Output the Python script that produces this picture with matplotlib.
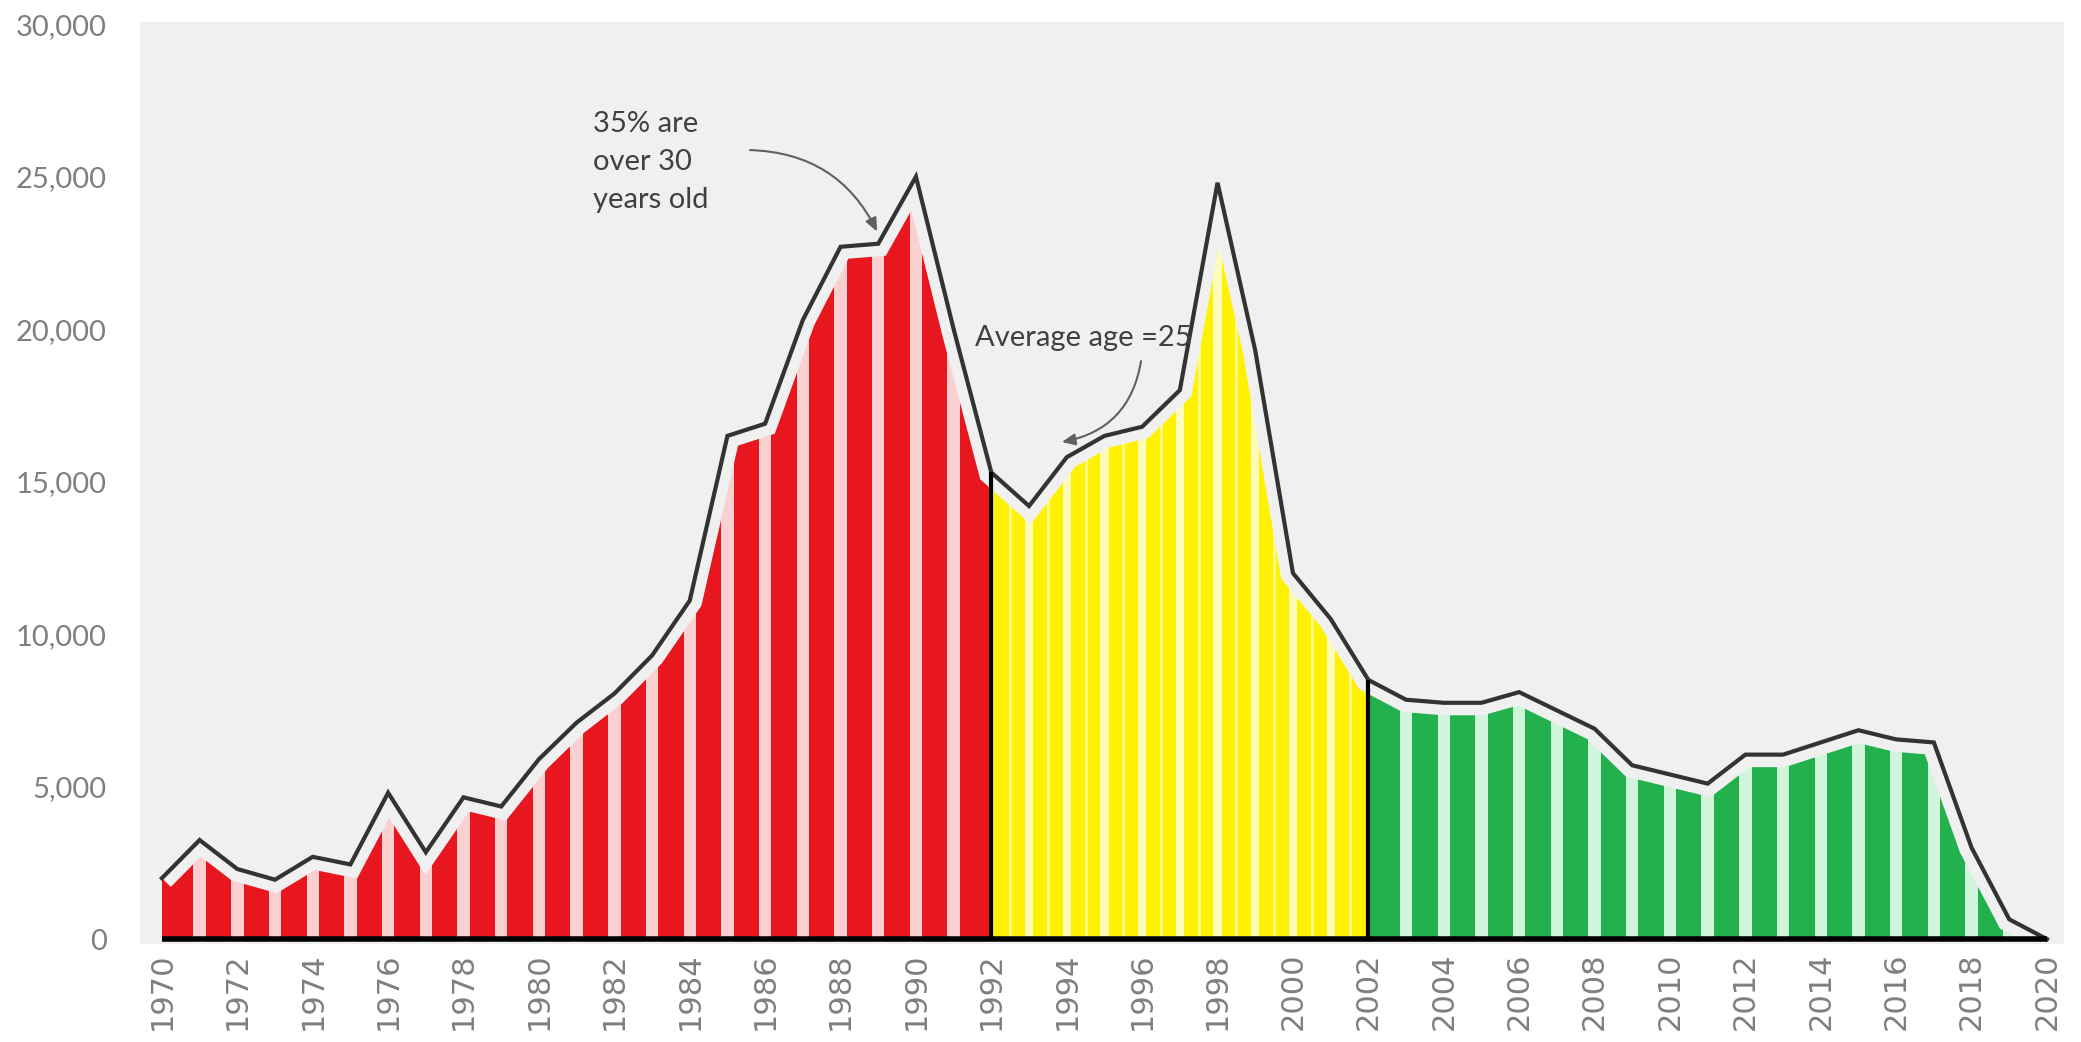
import matplotlib
matplotlib.use("Agg")
import matplotlib.pyplot as plt
import numpy as np
from matplotlib.ticker import FuncFormatter

# data
years = np.arange(1970, 2021)
values = np.array([
    2000, 3250, 2300, 1950, 2700, 2450, 4800, 2850, 4650, 4350,
    5900, 7100, 8050, 9300, 11100, 16500, 16900, 20300, 22700, 22800,
    25000, 20000, 15300, 14200, 15800, 16500, 16800, 18000, 24800, 19300,
    12000, 10500, 8500, 7850, 7750, 7750, 8100, 7500, 6900, 5700,
    5400, 5100, 6050, 6050, 6450, 6850, 6550, 6450, 3000, 650, 0,
])
segment_bounds = [(1970, 1992), (1992, 2002), (2002, 2020)]
segment_colors = ["#e8171f", "#fff200", "#22b14c"]
stripe_colors = ["#fbd0d0", "#fffbb8", "#d0f5da"]
stripe_widths = [0.33, 0.22, 0.33]
xtick_years = np.arange(1970, 2021, 2)
yticks = np.arange(0, 30001, 5000)

BG = "#f0f0f0"
GREY = "#7f7f7f"

fig = plt.figure(figsize=(20.81, 10.42), dpi=100)
ax = fig.add_axes([0.0673, 0.094, 0.9245, 0.8849])
ax.set_facecolor(BG)

for i, ((a, b), col, pale, sw) in enumerate(zip(segment_bounds, segment_colors,
                                                stripe_colors, stripe_widths)):
    mask = (years >= a) & (years <= b)
    xs, ys = years[mask], values[mask]
    poly = ax.fill_between(xs, 0, ys, color=pale, lw=0, zorder=1)
    clip = poly.get_paths()[0]
    lefts = xs[:-1] + sw / 2
    rights = xs[1:] - sw / 2
    lefts[0] = xs[0]
    rights[-1] = xs[-1]
    heights = np.maximum(ys[:-1], ys[1:])
    bars = ax.bar(lefts, heights, width=rights - lefts, align="edge",
                  color=col, lw=0, zorder=2)
    for patch in bars:
        patch.set_clip_path(clip, ax.transData)
    if i == 1:
        # faint mid lines inside the yellow bars
        mids = ax.vlines(xs[:-1] + 0.5, 0, heights, colors="#fff98a", lw=2, zorder=2.5)
        mids.set_clip_path(clip, ax.transData)

# background-coloured wide stroke gives the inset look, then the outline
ax.plot(years, values, color=BG, lw=18, solid_joinstyle="miter",
        solid_capstyle="butt", zorder=3)
ax.plot(years, values, color="#333333", lw=3, solid_joinstyle="miter", zorder=4)

split_years = [b for a, b in segment_bounds[:-1]]
split_vals = [values[years == y][0] for y in split_years]
ax.vlines(split_years, 0, split_vals, colors="black", lw=3, zorder=5)
ax.plot([years[0], years[-1]], [0, 0], color="black", lw=4,
        solid_capstyle="butt", zorder=6)

ax.set_xlim(1969.42, 2020.45)
ax.set_ylim(-160, 30070)

ax.set_xticks(xtick_years)
ax.set_xticklabels([str(y) for y in xtick_years], rotation=90,
                   fontsize=22, color=GREY, family="DejaVu Sans")
ax.set_yticks(yticks)
ax.yaxis.set_major_formatter(FuncFormatter(lambda v, p: f"{v:,.0f}"))
for lab in ax.get_yticklabels():
    lab.set_fontfamily("Lato")
    lab.set_fontsize(21)
    lab.set_color(GREY)
ax.tick_params(axis="x", length=0, pad=6)
ax.tick_params(axis="y", length=0, pad=24)
for s in ax.spines.values():
    s.set_visible(False)

ax.text(1981.43, 25480, "35% are\nover 30\nyears old", fontsize=21,
        family="Lato", color="#404040", ha="left", va="center",
        linespacing=1.55, zorder=10)
ax.annotate("", xy=(1988.97, 23200), xytext=(1985.6, 25870),
            arrowprops=dict(arrowstyle="-|>,head_length=0.8,head_width=0.35",
                            color="#606060", lw=1.5, shrinkA=0, shrinkB=0,
                            connectionstyle="arc3,rad=-0.3"), zorder=10)

ax.text(1991.57, 19700, "Average age =25", fontsize=21, family="Lato",
        color="#404040", ha="left", va="center", zorder=10)
ax.annotate("", xy=(1993.87, 16300), xytext=(1995.97, 18950),
            arrowprops=dict(arrowstyle="-|>,head_length=0.8,head_width=0.35",
                            color="#606060", lw=1.5, shrinkA=0, shrinkB=0,
                            connectionstyle="arc3,rad=-0.35"), zorder=10)

fig.savefig("out.png", dpi=100)
